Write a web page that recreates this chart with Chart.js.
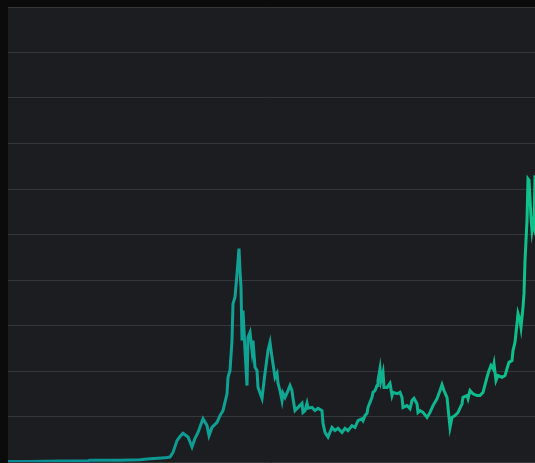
<!DOCTYPE html>
<html>
<head>
<meta charset="utf-8">
<script src="https://cdn.jsdelivr.net/npm/chart.js@4.4.1/dist/chart.umd.min.js"></script>
<style>
  html, body { margin: 0; padding: 0; background: #0b0b0b; }
  #wrap { width: 535px; height: 463px; position: relative; }
</style>
</head>
<body>
<div id="wrap"><canvas id="chart"></canvas></div>
<script>
// -------------------------
// Data
// -------------------------
const days = [0, 22, 52, 79, 82, 112, 132, 142, 154, 159, 162, 165, 169, 172, 175, 180, 184, 187, 190, 195,
  199, 201, 204, 209, 212, 215, 219, 220, 222, 224, 225, 227, 229, 231, 232, 233, 234, 235, 237, 239,
  240, 242, 244, 245, 247, 249, 250, 254, 257, 260, 262, 264, 265, 267, 269, 270, 272, 274, 275, 277,
  280, 282, 284, 285, 287, 290, 294, 295, 297, 299, 300, 304, 307, 310, 314, 315, 317, 320, 324, 327,
  330, 334, 337, 340, 344, 347, 350, 354, 355, 357, 359, 360, 362, 364, 365, 367, 369, 370, 372, 373,
  375, 376, 379, 382, 384, 385, 389, 392, 394, 395, 399, 402, 404, 406, 409, 410, 412, 415, 419, 422,
  425, 429, 432, 434, 436, 439, 440, 442, 444, 447, 450, 454, 455, 459, 460, 462, 465, 469, 472, 475,
  479, 481, 483, 485, 486, 488, 490, 494, 497, 499, 501, 504, 505, 507, 509, 510, 512, 513, 515, 516,
  517, 519, 520, 521, 523, 524, 525, 526, 527];

const prices = [0.01, 0.01, 0.02, 0.02, 0.04, 0.04, 0.05, 0.07, 0.09, 0.1, 0.11, 0.21, 0.47, 0.56, 0.63, 0.55, 0.33, 0.52, 0.65, 0.95,
  0.8, 0.58, 0.76, 0.87, 1.02, 1.13, 1.5, 1.86, 2.01, 2.67, 3.48, 3.62, 4.14, 4.69, 4.21, 3.84, 2.67, 3.33, 2.45, 1.68,
  2.74, 2.85, 2.45, 2.67, 2.08, 2.01, 1.64, 1.4, 1.95, 2.45, 2.63, 2.3, 2.16, 1.86, 1.95, 1.73, 1.57, 1.35, 1.51, 1.42,
  1.57, 1.68, 1.57, 1.4, 1.13, 1.2, 1.29, 1.09, 1.13, 1.29, 1.18, 1.2, 1.13, 1.18, 1.13, 0.85, 0.65, 0.55, 0.76, 0.69,
  0.74, 0.65, 0.74, 0.69, 0.8, 0.76, 0.91, 0.95, 0.91, 1.02, 1.07, 1.2, 1.31, 1.42, 1.53, 1.57, 1.68, 1.79, 2.05, 1.79,
  1.97, 1.64, 1.64, 1.73, 1.46, 1.53, 1.5, 1.53, 1.42, 1.2, 1.24, 1.17, 1.35, 1.4, 1.28, 1.09, 1.13, 1.09, 0.98, 1.09,
  1.24, 1.39, 1.57, 1.7, 1.57, 1.42, 1.2, 0.76, 0.98, 1.02, 1.09, 1.28, 1.42, 1.46, 1.39, 1.57, 1.5, 1.46, 1.46, 1.53,
  1.86, 2.01, 2.12, 2.05, 2.16, 1.79, 1.9, 1.86, 1.9, 2.05, 2.19, 2.23, 2.45, 2.63, 3.04, 3.26, 3.11, 2.96, 3.4, 3.7,
  4.43, 5.31, 6.22, 6.19, 5.38, 5.09, 5.24, 5.16, 6.3];

const yTicks = [0, 1, 2, 3, 4, 5, 6, 7, 8, 9, 10];

// -------------------------
// Plugins
// -------------------------
const areaBg = {
  id: "areaBg",
  beforeDraw(chart) {
    const { ctx, chartArea: a } = chart;
    ctx.save();
    ctx.fillStyle = "#1c1d21";
    ctx.fillRect(a.left, a.top, a.right - a.left, chart.height - a.top);
    ctx.restore();
  }
};

function lineGradient(context) {
  const { ctx, chartArea } = context.chart;
  if (!chartArea) return "#10a595";
  const g = ctx.createLinearGradient(chartArea.left, 0, chartArea.right, 0);
  g.addColorStop(0, "#068892");
  g.addColorStop(0.45, "#10a394");
  g.addColorStop(1, "#0fc18a");
  return g;
}

new Chart(document.getElementById("chart"), {
  type: "line",
  data: {
    datasets: [{
      data: days.map((d, i) => ({ x: d, y: prices[i] })),
      borderColor: lineGradient,
      borderWidth: 3,
      pointRadius: 0,
      tension: 0,
      fill: false
    }]
  },
  options: {
    responsive: true,
    maintainAspectRatio: false,
    animation: false,
    layout: { padding: { left: 8, top: 7, right: 0, bottom: 1 } },
    plugins: { legend: { display: false }, tooltip: { enabled: false } },
    scales: {
      x: { type: "linear", min: 0, max: 527, display: false },
      y: {
        min: yTicks[0],
        max: yTicks[yTicks.length - 1],
        afterBuildTicks: s => { s.ticks = yTicks.map(v => ({ value: v })); },
        ticks: { display: false },
        grid: { color: "#36373b", lineWidth: 1, drawTicks: false },
        border: { display: false }
      }
    }
  },
  plugins: [areaBg]
});
</script>
</body>
</html>
